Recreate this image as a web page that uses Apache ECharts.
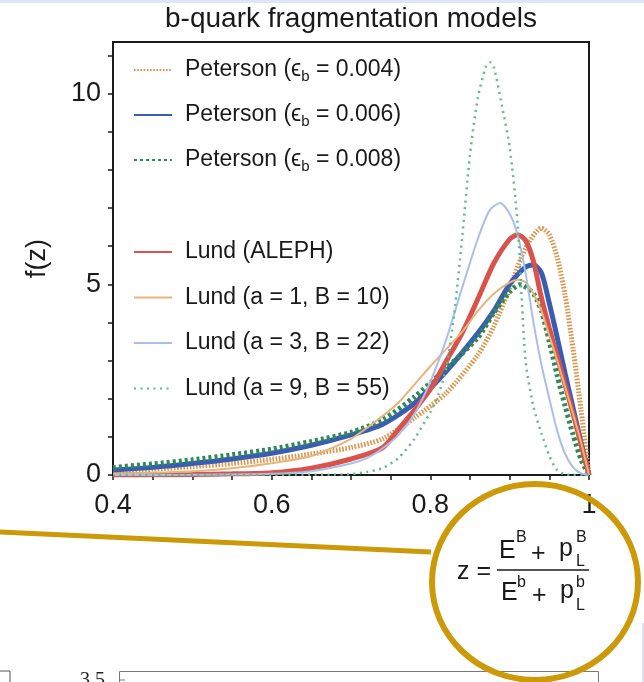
<!DOCTYPE html>
<html><head><meta charset="utf-8">
<script src="https://cdn.jsdelivr.net/npm/echarts@6/dist/echarts.min.js"></script>
<style>html,body{margin:0;padding:0;background:#fff}#c{width:644px;height:682px}</style>
</head><body><div id="c"></div><script>
// ---- data ----
const titleText = 'b-quark fragmentation models';
const yAxisName = 'f(z)';
const seriesNames = [
  'Peterson (ϵ_b = 0.004)', 'Peterson (ϵ_b = 0.006)', 'Peterson (ϵ_b = 0.008)',
  'Lund (ALEPH)', 'Lund (a = 1, B = 10)', 'Lund (a = 3, B = 22)', 'Lund (a = 9, B = 55)'
];
const zP004 = [0.40,0.45,0.50,0.55,0.60,0.65,0.70,0.74,0.78,0.82,0.86,0.88,0.90,0.92,0.94,0.95,0.96,0.97,0.98,0.99,1.00];
const fP004 = [0.09,0.15,0.22,0.30,0.41,0.55,0.72,0.95,1.50,2.15,3.15,3.90,4.90,5.95,6.47,6.30,5.70,4.70,3.30,1.70,0];
const zP006 = [0.40,0.45,0.50,0.55,0.60,0.65,0.70,0.74,0.78,0.82,0.86,0.88,0.90,0.92,0.93,0.94,0.95,0.96,0.97,0.98,0.99,1.00];
const fP006 = [0.13,0.20,0.30,0.42,0.57,0.78,1.05,1.33,1.88,2.72,3.72,4.30,5.00,5.45,5.51,5.30,4.50,3.60,2.65,1.75,0.85,0];
const zP008 = [0.40,0.45,0.50,0.55,0.60,0.65,0.70,0.74,0.78,0.82,0.86,0.88,0.90,0.913,0.93,0.94,0.95,0.96,0.97,0.98,0.99,1.00];
const fP008 = [0.20,0.29,0.40,0.53,0.68,0.88,1.12,1.45,2.05,2.80,3.60,4.25,4.80,4.99,4.75,4.30,3.50,2.60,1.80,1.05,0.40,0];
const zLAleph = [0.40,0.45,0.50,0.55,0.60,0.65,0.70,0.74,0.76,0.78,0.80,0.82,0.84,0.86,0.88,0.90,0.91,0.92,0.93,0.94,0.95,0.96,0.97,0.98,0.99,1.00];
const fLAleph = [0,0.005,0.015,0.03,0.06,0.18,0.42,0.72,1.20,1.70,2.25,2.98,3.72,4.62,5.55,6.18,6.30,6.15,5.60,4.65,3.85,3.10,2.35,1.60,0.80,0];
const zL1 = [0.40,0.45,0.50,0.55,0.60,0.65,0.70,0.74,0.76,0.80,0.84,0.86,0.88,0.90,0.911,0.92,0.93,0.94,0.95,0.96,0.97,0.98,0.99,1.00];
const fL1 = [0.03,0.06,0.10,0.18,0.31,0.50,0.95,1.55,1.90,2.85,3.75,4.30,4.75,5.05,5.12,5.05,4.75,4.30,3.65,3.00,2.30,1.60,0.85,0];
const zL3 = [0.40,0.50,0.60,0.65,0.70,0.72,0.74,0.76,0.78,0.80,0.82,0.84,0.86,0.875,0.888,0.90,0.91,0.92,0.93,0.94,0.95,0.96,0.97,0.98,0.99,1.00];
const fL3 = [0,0.005,0.03,0.10,0.30,0.44,0.70,1.05,1.60,2.45,3.55,4.90,6.20,6.95,7.13,6.85,6.30,5.30,4.00,2.90,2.00,1.15,0.55,0.20,0.04,0];
const zL9 = [0.40,0.60,0.68,0.70,0.72,0.74,0.76,0.78,0.80,0.81,0.82,0.83,0.84,0.85,0.86,0.87,0.875,0.88,0.89,0.90,0.91,0.92,0.93,0.94,0.95,0.96,0.97,0.98,1.00];
const fL9 = [0,0,0.01,0.02,0.08,0.18,0.45,0.95,1.65,2.10,2.80,4.20,6.20,8.40,9.90,10.70,10.82,10.70,9.70,8.60,6.60,3.00,1.79,1.10,0.50,0.12,0.02,0,0];
const xTickValues = [0.4,0.45,0.5,0.55,0.6,0.65,0.7,0.75,0.8,0.85,0.9,0.95,1];
const xLabelValues = [0.4,0.6,0.8,1];
const yTickValues = [0,1,2,3,4,5,6,7,8,9,10,11];
const yLabelValues = [0,5,10];

const zs = [zP004,zP006,zP008,zLAleph,zL1,zL3,zL9];
const fs = [fP004,fP006,fP008,fLAleph,fL1,fL3,fL9];
const styles = [
  {color:'#d9954a', width:5, type:[1.6,1.6]},
  {color:'#3a5db4', width:5, type:'solid'},
  {color:'#2f8a52', width:5, type:[3,3]},
  {color:'#d9534c', width:5, type:'solid'},
  {color:'#e6b57c', width:2, type:'solid'},
  {color:'#a9bfe9', width:2, type:'solid'},
  {color:'#5dba8c', width:2.5, type:[2,4.5]}
];
const font = 'Liberation Sans, Arial, Helvetica, sans-serif';
const gold = '#cc9a08';

const series = seriesNames.map((n,i)=>({
  name:n, type:'line', showSymbol:false, symbol:'none', smooth:0.25,
  data: zs[i].map((z,k)=>[z, fs[i][k]]),
  lineStyle:{color:styles[i].color, width:styles[i].width, type:styles[i].type, cap:'butt'},
  itemStyle:{color:styles[i].color}, z: 2+i, animation:false
}));

const legendText = {
  fontSize:23, fontFamily:font, color:'#1a1a1a', lineHeight:24, padding:[0,0,0,8],
  rich:{ sub:{fontSize:15, fontFamily:font, color:'#1a1a1a', padding:[13,0,0,0], lineHeight:15} }
};
const legendFmt = n => n.replace('ϵ_b', 'ϵ{sub|b}');
const legendCommon = {orient:'vertical', left:133, itemWidth:38, itemHeight:14,
  itemStyle:{opacity:0, borderWidth:0},
  textStyle:legendText, formatter:legendFmt, selectedMode:false, padding:0};

const txt = (s, x, y, size, align, extra) => Object.assign({type:'text', x:x, y:y, z:50,
  style:{text:s, fontSize:size, fontFamily:font, fill:'#1a1a1a', textAlign:align||'left', textVerticalAlign:'middle'}}, extra||{});

const chart = echarts.init(document.getElementById('c'), null, {renderer:'canvas'});
chart.setOption({
  animation:false,
  backgroundColor:'#ffffff',
  title:{text:titleText, left:346, top:0, textAlign:'center',
    textStyle:{fontSize:28, fontWeight:'normal', fontFamily:font, color:'#1a1a1a'}},
  grid:{left:113, right:55, top:42, bottom:207, show:true, borderColor:'#1a1a1a', borderWidth:2, outerBoundsMode:'none', containLabel:false},
  legend:[
    Object.assign({}, legendCommon, {top:56, itemGap:17, data:seriesNames.slice(0,3)}),
    Object.assign({}, legendCommon, {top:240, itemGap:21.5, data:seriesNames.slice(3)})
  ],
  xAxis:{type:'value', min:0.4, max:1.0, interval:0.05,
    axisLine:{show:true, lineStyle:{color:'#1a1a1a', width:2}},
    axisTick:{show:true, inside:false, length:5, lineStyle:{color:'#1a1a1a', width:1.5}, customValues:xTickValues},
    axisLabel:{fontSize:27, fontFamily:font, color:'#1a1a1a', margin:17, customValues:xLabelValues},
    splitLine:{show:false}},
  yAxis:{type:'value', min:0, max:11.35, interval:1, name:yAxisName, nameLocation:'middle', nameGap:62,
    nameTextStyle:{fontSize:27, fontFamily:font, color:'#1a1a1a'},
    axisLine:{show:true, lineStyle:{color:'#1a1a1a', width:2}},
    axisTick:{show:true, inside:false, length:5, lineStyle:{color:'#1a1a1a', width:1.5}, customValues:yTickValues},
    axisLabel:{fontSize:27, fontFamily:font, color:'#1a1a1a', margin:12, customValues:yLabelValues},
    splitLine:{show:false}},
  series:series,
  graphic:[
    {type:'rect', shape:{x:0,y:0,width:644,height:3}, style:{fill:'#dde6f3'}, z:1},
    {type:'line', shape:{x1:0,y1:532,x2:431,y2:552}, style:{stroke:gold, lineWidth:5}, z:40},
    {type:'ellipse', shape:{cx:535, cy:582, rx:103, ry:98}, style:{stroke:gold, lineWidth:6, fill:null}, z:40},
    txt('z =', 491, 572, 25, 'right'),
    txt('E', 499, 551, 25),
    txt('B', 516, 538, 16),
    txt('+', 531, 554, 25),
    txt('p', 559, 549, 25),
    txt('B', 576, 538, 16),
    txt('L', 576, 562, 16),
    {type:'line', shape:{x1:497,y1:570,x2:589,y2:570}, style:{stroke:'#1a1a1a', lineWidth:1.5}, z:50},
    txt('E', 501, 593, 25),
    txt('b', 517, 583, 16),
    txt('+', 532, 596, 25),
    txt('p', 560, 591, 25),
    txt('b', 576, 583, 16),
    txt('L', 576, 606, 16),
    {type:'polyline', shape:{points:[[0,671],[10,671],[10,682]]}, style:{stroke:'#555', lineWidth:1, fill:null}, z:10},
    {type:'text', x:80, y:671, z:10, style:{text:'3.5', fontSize:20, fontFamily:'Liberation Serif, serif', fill:'#222', textVerticalAlign:'top'}},
    {type:'rect', shape:{x:119.5,y:671.5,width:479,height:30}, style:{stroke:'#777', lineWidth:1, fill:null}, z:10},
    {type:'line', shape:{x1:119,y1:680,x2:125,y2:680}, style:{stroke:'#777', lineWidth:1}, z:10},
    {type:'rect', shape:{x:642,y:623,width:2,height:59}, style:{fill:'#d8e3f5'}, z:10}
  ]
});
</script></body></html>
